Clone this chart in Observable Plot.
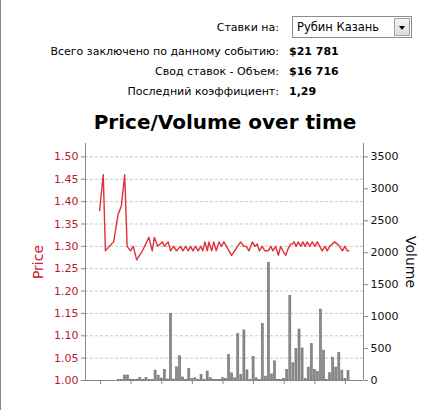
<!DOCTYPE html>
<html>
<head>
<meta charset="utf-8">
<script src="https://cdn.jsdelivr.net/npm/d3@7"></script>
<script src="https://cdn.jsdelivr.net/npm/@observablehq/plot@0.6"></script>
<style>
  html, body { margin: 0; padding: 0; background: #fff; width: 438px; height: 410px; overflow: hidden; }
  body { font-family: "DejaVu Sans", sans-serif; position: relative; }
  .leftborder { position: absolute; left: 0; top: 0; width: 1px; height: 410px; background: #8a8a8a; }
  .row { position: absolute; left: 0; width: 438px; font-size: 11px; line-height: 14px; color: #000; }
  .lab { position: absolute; right: 159px; white-space: nowrap; }
  .val { position: absolute; left: 289px; font-weight: bold; white-space: nowrap; }
  .sel { position: absolute; left: 292px; top: 16px; width: 120px; height: 22px; border: 1px solid #8c8c8c; background: #fff; box-sizing: border-box; }
  .sel span { position: absolute; left: 4px; top: 3px; font-size: 11.5px; }
  .btn { position: absolute; right: 1px; top: 1px; width: 16px; height: 18px; box-sizing: border-box; border: 1px solid #a0a0a0; background: linear-gradient(#f4f4f4, #dcdcdc); }
  .btn:after { content: ""; position: absolute; left: 4px; top: 7px; border-left: 3.5px solid transparent; border-right: 3.5px solid transparent; border-top: 4px solid #000; }
  .title { position: absolute; left: 0; width: 450px; top: 110px; text-align: center; font-size: 20px; font-weight: bold; color: #000; }
  .layer { position: absolute; left: 0; top: 105px; }
  .ylab { position: absolute; font-size: 14px; white-space: nowrap; }
</style>
</head>
<body>
<div class="leftborder"></div>
<div id="header"></div>
<div class="title" id="title"></div>
<div id="chart"></div>
<script>
// ---- data ----
const headerLabels = ["Ставки на:", "Всего заключено по данному событию:", "Свод ставок - Объем:", "Последний коэффициент:"];
const headerValues = ["Рубин Казань", "$21 781", "$16 716", "1,29"];
const chartTitle = "Price/Volume over time";

// price line: time (index units) and price
const priceT = [-0.3, 0.9, 1.6, 2.9, 4.3, 5.7, 6.8, 7.9, 8.7, 9.8, 10.7, 11.8, 13.7, 15.8, 16.9, 17.6, 18.7, 20.2, 20.9, 22.1, 22.9, 23.9, 24.8,
  26.1, 26.9, 27.8, 28.7, 29.4, 30.2, 31.0, 31.9, 32.7, 33.4, 34.1, 34.9, 35.4, 36.3, 37.0, 37.8, 38.7, 39.5, 40.3, 42.8, 45.8,
  46.8, 47.6, 48.5, 49.6, 50.4, 51.2, 51.9, 52.8, 53.7, 54.8, 55.6, 56.3, 57.2, 58.1, 58.8, 59.6, 60.5, 61.3, 62.1, 62.6, 63.2,
  63.9, 64.6, 65.4, 66.1, 66.8, 67.5, 68.3, 69.2, 70.0, 70.8, 71.6, 72.4, 73.3, 74.1, 74.8, 75.7, 76.5, 77.3, 78.1, 79.0, 79.8, 80.6, 81.1];
const priceV = [1.38, 1.46, 1.29, 1.30, 1.31, 1.37, 1.39, 1.46, 1.30, 1.29, 1.30, 1.27, 1.29, 1.32, 1.29, 1.32, 1.30, 1.31, 1.30, 1.31, 1.29, 1.30, 1.29,
  1.30, 1.29, 1.30, 1.29, 1.30, 1.29, 1.30, 1.29, 1.30, 1.29, 1.31, 1.29, 1.31, 1.29, 1.31, 1.29, 1.31, 1.30, 1.31, 1.28, 1.31,
  1.30, 1.30, 1.29, 1.31, 1.30, 1.305, 1.29, 1.30, 1.29, 1.29, 1.30, 1.29, 1.30, 1.28, 1.30, 1.29, 1.28, 1.295, 1.305, 1.305, 1.31,
  1.30, 1.31, 1.30, 1.31, 1.30, 1.31, 1.30, 1.31, 1.30, 1.31, 1.30, 1.29, 1.30, 1.29, 1.30, 1.305, 1.31, 1.305, 1.30, 1.29, 1.30, 1.29, 1.29];

// volume bars: time index and volume
const volT = d3.range(6, 82);
const volV = [8, 10, 78, 78, 12, 10, 12, 40, 12, 40, 10, 8, 155, 75, 30, 165, 15, 1045, 15, 207, 380, 48, 8, 182, 25, 35, 8, 88, 10, 140,
  35, 8, 5, 5, 35, 25, 400, 112, 35, 726, 88, 783, 158, 10, 368, 35, 8, 882, 60, 1840, 95, 300, 8, 5, 25, 165, 1325, 270, 493, 798,
  502, 22, 202, 571, 165, 130, 1110, 466, 8, 114, 358, 202, 435, 155, 25, 150];

const priceTicks = [1.00, 1.05, 1.10, 1.15, 1.20, 1.25, 1.30, 1.35, 1.40, 1.45, 1.50];
const volumeTicks = [0, 500, 1000, 1500, 2000, 2500, 3000, 3500];
const timeTicks = [0, 10, 20, 30, 40, 50, 60, 70, 80];
const xDomain = [-4.9, 85.9];
const priceDomain = [1, 1.53];
const volumeDomain = [0, 3710];

// ---- header ----
const header = document.getElementById("header");
const rowCenters = [28, 52, 72, 92];
headerLabels.forEach((t, i) => {
  const row = document.createElement("div");
  row.className = "row";
  row.style.top = (rowCenters[i] - 7) + "px";
  const l = document.createElement("div");
  l.className = "lab"; l.textContent = t; row.appendChild(l);
  if (i > 0) {
    const v = document.createElement("div");
    v.className = "val"; v.textContent = headerValues[i]; row.appendChild(v);
  }
  header.appendChild(row);
});
const sel = document.createElement("div");
sel.className = "sel";
sel.innerHTML = `<span></span><div class="btn"></div>`;
sel.querySelector("span").textContent = headerValues[0];
header.appendChild(sel);
document.getElementById("title").textContent = chartTitle;

// ---- chart ----
const priceData = priceT.map((t, i) => ({t, p: priceV[i]}));
const volData = volT.map((t, i) => ({t, v: volV[i]}));

const common = {
  width: 438, height: 300,
  marginLeft: 85, marginRight: 75, marginTop: 38, marginBottom: 25,
  style: {background: "transparent", fontFamily: "DejaVu Sans", fontSize: "11px", overflow: "visible"}
};

const layerGrid = Plot.plot({
  ...common,
  x: {domain: xDomain, axis: null},
  y: {domain: priceDomain, axis: null},
  marks: [
    Plot.gridY(priceTicks, {stroke: "#c8c8c8", strokeOpacity: 1, strokeDasharray: "3,2"}),
  ]
});

const layerBars = Plot.plot({
  ...common,
  x: {domain: xDomain},
  y: {domain: volumeDomain},
  marks: [
    Plot.rectY(volData, {x1: d => d.t - 0.33, x2: d => d.t + 0.33, y: "v", fill: "#8c8c8c", stroke: "#6e6e6e", strokeWidth: 0.6}),
    Plot.axisY(volumeTicks, {anchor: "right", tickSize: 4, tickPadding: 3, stroke: "#888", fill: "#111", label: null, tickFormat: d => String(d)}),
    Plot.axisX(timeTicks, {tickSize: 4, stroke: "#888", tickFormat: () => "", label: null}),
    Plot.ruleX([xDomain[1]], {stroke: "#888"}),
    Plot.ruleY([0], {stroke: "#888"})
  ]
});

const layerLine = Plot.plot({
  ...common,
  x: {domain: xDomain, axis: null},
  y: {domain: priceDomain},
  marks: [
    Plot.line(priceData, {x: "t", y: "p", stroke: "#e0313a", strokeWidth: 1.4}),
    Plot.axisY(priceTicks, {anchor: "left", tickSize: 4, tickPadding: 3, stroke: "#888", fill: "#b81c2e", label: null, tickFormat: d3.format(".2f")}),
    Plot.ruleX([xDomain[0]], {stroke: "#888"})
  ]
});

const chart = document.getElementById("chart");
[layerGrid, layerBars, layerLine].forEach(svg => {
  svg.classList.add("layer");
  chart.appendChild(svg);
});

const pl = document.createElement("div");
pl.className = "ylab"; pl.textContent = "Price"; pl.style.color = "#d0202e";
pl.style.left = "38px"; pl.style.top = "262px"; pl.style.transform = "translate(-50%,-50%) rotate(-90deg)";
chart.appendChild(pl);
const vl = document.createElement("div");
vl.className = "ylab"; vl.textContent = "Volume"; vl.style.color = "#111";
vl.style.left = "411px"; vl.style.top = "262px"; vl.style.transform = "translate(-50%,-50%) rotate(90deg)";
chart.appendChild(vl);
</script>
</body>
</html>
